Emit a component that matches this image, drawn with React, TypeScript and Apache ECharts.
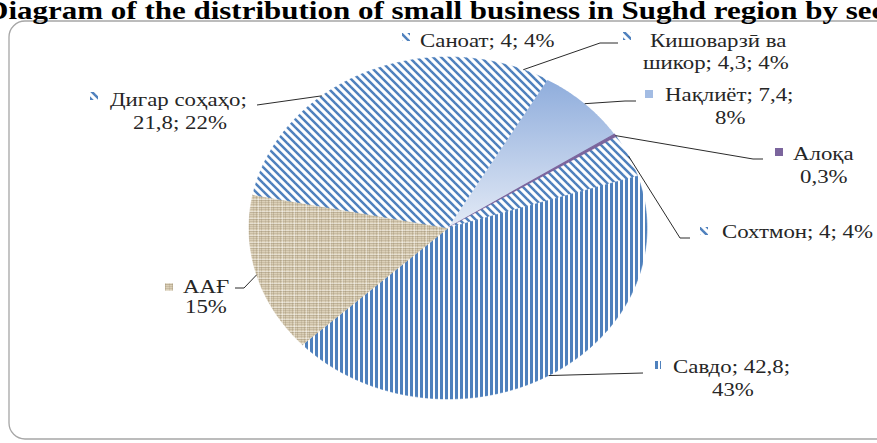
import React, { useEffect, useRef } from 'react';
import * as echarts from 'echarts';

// ---- data ----
const titleText = 'Diagram of the distribution of small business in Sughd region by sectors';
const categories = ['Саноат', 'Кишоварзӣ ва шикор', 'Нақлиёт', 'Алоқа', 'Сохтмон', 'Савдо', 'ААҒ', 'Дигар соҳаҳо'];
const values = [4, 4.3, 7.4, 0.3, 4, 42.8, 15, 21.8];
const labelLines = [
  ['Саноат; 4; 4%'],
  ['Кишоварзӣ ва', 'шикор; 4,3; 4%'],
  ['Нақлиёт; 7,4;', '8%'],
  ['Алоқа', '0,3%'],
  ['Сохтмон; 4; 4%'],
  ['Савдо; 42,8;', '43%'],
  ['ААҒ', '15%'],
  ['Дигар соҳаҳо;', '21,8; 22%'],
];
const fillKinds = ['diag', 'diag', 'grad', 'purple', 'diag', 'vert', 'linen', 'diag'];

// ---- layout (positions of labels, not data) ----
const labelLayout: { icon: number[]; lines: number[][]; leader: number[][] | null }[] = [
  { icon: [402, 33], lines: [[420, 41]], leader: null },
  { icon: [623, 32], lines: [[650, 41], [643, 63]], leader: [[600, 43], [618, 43]] },
  { icon: [645, 90], lines: [[665, 95], [715, 118]], leader: [[625, 101], [636, 101]] },
  { icon: [775, 148], lines: [[793, 154], [800, 177]], leader: [[753, 159], [763, 159]] },
  { icon: [700, 227], lines: [[722, 232]], leader: [[680, 238], [690, 238]] },
  { icon: [653, 361], lines: [[673, 367], [712, 390]], leader: [[643, 373]] },
  { icon: [165, 283], lines: [[183, 287], [185, 307]], leader: [[244, 288], [235, 288]] },
  { icon: [90, 92], lines: [[110, 100], [133, 123]], leader: [[257, 105]] },
];

const CX = 448, CY = 228, RX = 199, RY = 171;
const TEXT_SCALE = 1.27;
const BLUE = '#4F81BD';

function makeDiag(): HTMLCanvasElement {
  const s = 8;
  const c = document.createElement('canvas');
  c.width = s; c.height = s;
  const g = c.getContext('2d')!;
  g.fillStyle = '#ffffff'; g.fillRect(0, 0, s, s);
  g.strokeStyle = BLUE; g.lineWidth = 2.5;
  for (let k = -1; k <= 1; k++) {
    g.beginPath(); g.moveTo(k * s - 1, -1); g.lineTo(k * s + s + 1, s + 1); g.stroke();
  }
  return c;
}
function makeVert(): HTMLCanvasElement {
  const c = document.createElement('canvas');
  c.width = 5; c.height = 5;
  const g = c.getContext('2d')!;
  g.fillStyle = '#ffffff'; g.fillRect(0, 0, 5, 5);
  g.fillStyle = BLUE; g.fillRect(0, 0, 3, 5);
  return c;
}
function makeLinen(): HTMLCanvasElement {
  const s = 12;
  const c = document.createElement('canvas');
  c.width = s; c.height = s;
  const g = c.getContext('2d')!;
  g.fillStyle = '#DBD0B8'; g.fillRect(0, 0, s, s);
  const rows = [0, 3, 5, 8, 10];
  rows.forEach((y, i) => { g.fillStyle = `rgba(140,124,95,${0.22 + (i % 2) * 0.12})`; g.fillRect(0, y, s, 1); });
  const cols = [1, 4, 7, 9];
  cols.forEach((x, i) => { g.fillStyle = `rgba(150,134,104,${0.2 + (i % 2) * 0.12})`; g.fillRect(x, 0, 1, s); });
  g.fillStyle = 'rgba(255,255,255,0.35)'; g.fillRect(0, 2, s, 1); g.fillRect(0, 7, s, 1); g.fillRect(6, 0, 1, s);
  return c;
}

export default function App() {
  const ref = useRef<HTMLDivElement>(null);
  useEffect(() => {
    if (!ref.current) return;
    const chart = echarts.init(ref.current, null, { renderer: 'svg' });
    const diag = makeDiag(), vert = makeVert(), linen = makeLinen();
    const pat = (c: HTMLCanvasElement) => ({ type: 'pattern', image: c, repeat: 'repeat', imageWidth: c.width, imageHeight: c.height });
    const grad = new echarts.graphic.LinearGradient(0, 0, 0, 1, [
      { offset: 0, color: '#8FADDC' },
      { offset: 1, color: '#E3EAF6' },
    ]);
    const fillFor = (kind: string, icon: boolean): any => {
      if (kind === 'diag') return pat(diag);
      if (kind === 'vert') return pat(vert);
      if (kind === 'linen') return pat(linen);
      if (kind === 'purple') return '#7B659D';
      return icon ? '#A3BCE3' : grad;
    };
    const total = values.reduce((a, b) => a + b, 0);
    const starts: number[] = [];
    let acc = 0;
    values.forEach((v) => { starts.push(acc); acc += v; });
    const pt = (ang: number): number[] => [CX + RX * Math.sin(ang), CY - RY * Math.cos(ang)];

    const option: any = {
      animation: false,
      backgroundColor: '#ffffff',
      graphic: [
        {
          type: 'rect', z: 0,
          shape: { x: 9, y: 21, width: 900, height: 418, r: 16 },
          style: { fill: 'none', stroke: '#A6A6A6', lineWidth: 1.3 },
        },
        {
          type: 'text', z: 10, x: -14, y: 11, scaleX: 1.24,
          style: {
            text: titleText, fontSize: 25, fontWeight: 'bold', fontFamily: '"Liberation Serif"',
            fill: '#000000', align: 'left', verticalAlign: 'middle',
          },
        },
      ],
      series: [
        {
          type: 'custom',
          coordinateSystem: 'none',
          data: values.map((v, i) => ({ name: categories[i], value: v })),
          renderItem: (params: any, api: any) => {
            const i = params.dataIndex;
            const v = api.value(0) as number;
            const a0 = (starts[i] / total) * Math.PI * 2;
            const a1 = a0 + (v / total) * Math.PI * 2;
            const n = Math.max(2, Math.ceil((a1 - a0) / (Math.PI / 360)));
            const pts: number[][] = [[CX, CY]];
            for (let k = 0; k <= n; k++) pts.push(pt(a0 + ((a1 - a0) * k) / n));
            const kind = fillKinds[i];
            const sliceFill = fillFor(kind, false);
            const children: any[] = [
              {
                type: 'polygon',
                shape: { points: pts },
                style: {
                  fill: sliceFill,
                  stroke: kind === 'purple' ? '#7B659D' : kind === 'grad' ? null : sliceFill,
                  lineWidth: kind === 'purple' ? 1.2 : 0.6,
                },
              },
            ];
            const lay = labelLayout[i];
            if (lay.leader) {
              const s = pt((a0 + a1) / 2);
              children.push({
                type: 'polyline', z2: 5,
                shape: { points: [s, ...lay.leader] },
                style: { stroke: '#2b2b2b', lineWidth: 1, fill: null },
              });
            }
            children.push({
              type: 'rect', z2: 6,
              shape: { x: lay.icon[0], y: lay.icon[1], width: 8, height: 8 },
              style: { fill: fillFor(kind, true) },
            });
            labelLines[i].forEach((line, j) => {
              const p = lay.lines[j];
              children.push({
                type: 'text', z2: 6, x: p[0], y: p[1], scaleX: TEXT_SCALE,
                style: {
                  text: line, x: 0, y: 0, fontSize: 18, fontFamily: '"Liberation Serif"',
                  fill: '#262626', align: 'left', verticalAlign: 'middle',
                },
              });
            });
            return { type: 'group', children };
          },
        },
      ],
    };
    chart.setOption(option);
    return () => chart.dispose();
  }, []);
  return (
    <div
      ref={ref}
      style={{ position: 'fixed', left: 0, top: 0, width: 877, height: 443, background: '#fff' }}
    />
  );
}
